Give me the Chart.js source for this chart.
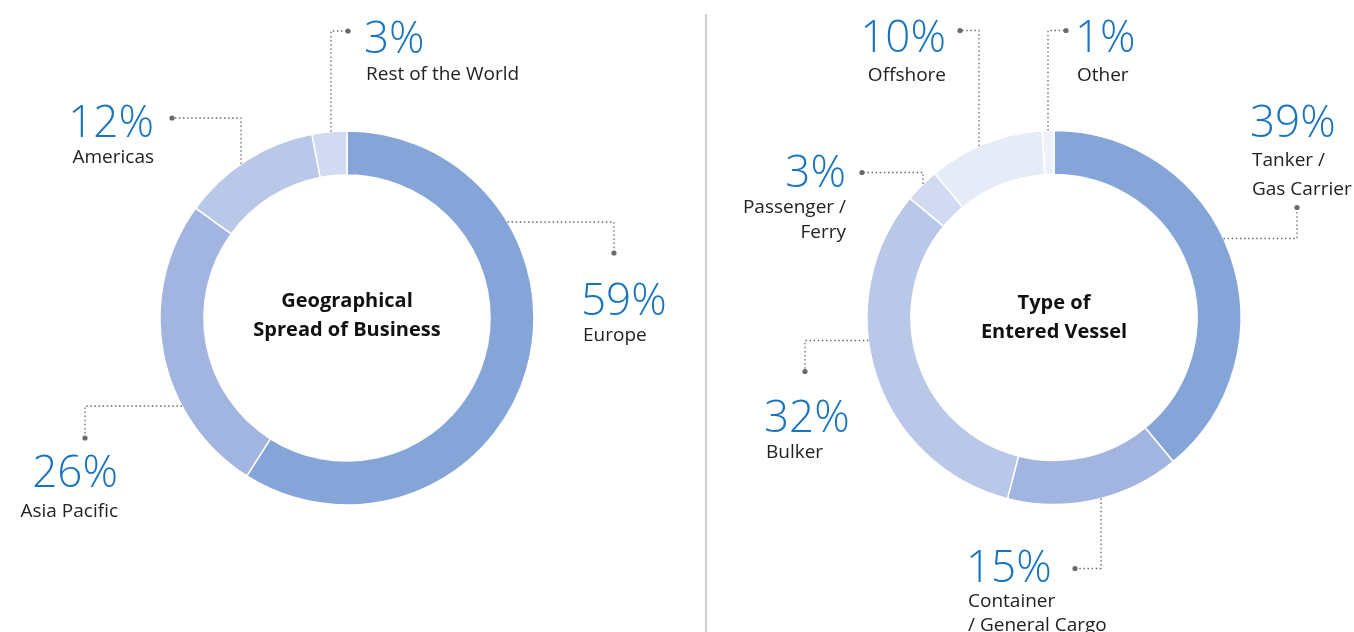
<!DOCTYPE html>
<html>
<head>
<meta charset="utf-8">
<script src="https://cdn.jsdelivr.net/npm/chart.js@4.4.1/dist/chart.umd.min.js"></script>
<style>
  html, body { margin: 0; padding: 0; background: #fff; }
  #wrap { position: relative; width: 1354px; height: 632px; overflow: hidden; }
  .pane { position: absolute; top: 0; height: 632px; }
  #left { left: 0; width: 706px; }
  #right { left: 707px; width: 647px; }
  #divider { position: absolute; left: 705px; top: 14px; width: 2px; height: 618px; background: #cfcfcf; }
</style>
</head>
<body>
<div id="wrap">
  <div class="pane" id="left"><canvas id="chart-geo"></canvas></div>
  <div id="divider"></div>
  <div class="pane" id="right"><canvas id="chart-vessel"></canvas></div>
</div>
<script>
// data
const geoLabels = ["Europe", "Asia Pacific", "Americas", "Rest of the World"];
const geoValues = [59, 26, 12, 3];
const geoTitle = ["Geographical", "Spread of Business"];

const vesselLabels = ["Tanker / Gas Carrier", "Container / General Cargo", "Bulker", "Passenger / Ferry", "Offshore", "Other"];
const vesselValues = [39, 15, 32, 3, 10, 1];
const vesselTitle = ["Type of", "Entered Vessel"];

const palette = {
  pct: "#1874bf",
  text: "#222222",
  leader: "#6a6a6a",
  geo: ["#85a4d8", "#a2b5e0", "#b9c7e8", "#d1daf1"],
  vessel: ["#85a4d8", "#a2b5e0", "#b9c7e8", "#d1daf1", "#e6ebf8", "#eef1fa"],
};

// label layout relative to the doughnut centre
// lines: text lines under the percentage, leader: from ring edge out to the dot
const geoLayout = [
  { x: 236, y: -3, align: "left", lines: ["Europe"], lh: 26, gap: 25,
    leader: { from: "h", at: -96, side: 1, bend: 267, end: -65 } },
  { x: -229, y: 169, align: "right", lines: ["Asia Pacific"], lh: 30, gap: 25,
    leader: { from: "h", at: 88, side: -1, bend: -262, end: 120 } },
  { x: -193, y: -181, align: "right", lines: ["Americas"], lh: 26, gap: 25,
    leader: { from: "v", at: -106, side: -1, bend: -200, end: -175 } },
  { x: 19, y: -265, align: "left", lines: ["Rest of the World"], lh: 27, gap: 25,
    leader: { from: "v", at: -16, side: -1, bend: -287, end: 1 } },
];

const vesselLayout = [
  { x: 198, y: -181, align: "left", lines: ["Tanker /", "Gas Carrier"], lh: 29, gap: 29,
    leader: { from: "h", at: -79, side: 1, bend: 243, end: -110 } },
  { x: -86, y: 264, align: "left", lines: ["Container", "/ General Cargo"], lh: 25, gap: 24,
    leader: { from: "v", at: 47, side: 1, bend: 251, end: 21 } },
  { x: -288, y: 114, align: "left", lines: ["Bulker"], lh: 26, gap: 25,
    leader: { from: "h", at: 23, side: -1, bend: -249, end: 54 } },
  { x: -208, y: -131, align: "right", lines: ["Passenger /", "Ferry"], lh: 26, gap: 25,
    leader: { from: "v", at: -131, side: -1, bend: -145, end: -192 } },
  { x: -108, y: -266, align: "right", lines: ["Offshore"], lh: 29, gap: 25,
    leader: { from: "v", at: -75, side: -1, bend: -287, end: -94 } },
  { x: 23, y: -266, align: "left", lines: ["Other"], lh: 29, gap: 25,
    leader: { from: "v", at: -6, side: -1, bend: -287, end: 12 } },
];

const pctFont = '300 44px "Open Sans", Lato, sans-serif';
const labelFont = '400 19px "Open Sans", Lato, sans-serif';
const titleFont = '700 20px "Open Sans", Lato, sans-serif';

function dottedLine(ctx, pts) {
  ctx.save();
  ctx.strokeStyle = palette.leader;
  ctx.lineWidth = 1.3;
  ctx.setLineDash([1.5, 2.6]);
  ctx.beginPath();
  ctx.moveTo(pts[0][0], pts[0][1]);
  for (let i = 1; i < pts.length; i++) ctx.lineTo(pts[i][0], pts[i][1]);
  ctx.stroke();
  ctx.restore();
  const last = pts[pts.length - 1];
  ctx.fillStyle = palette.leader;
  ctx.beginPath();
  ctx.arc(last[0], last[1], 2.6, 0, Math.PI * 2);
  ctx.fill();
}

const labelPlugin = {
  id: "calloutLabels",
  afterDraw(chart, args, opts) {
    const arc = chart.getDatasetMeta(0).data[0];
    if (!arc) return;
    const cx = arc.x, cy = arc.y, R = arc.outerRadius;
    const ctx = chart.ctx;
    const values = chart.data.datasets[0].data;

    // centre title
    ctx.save();
    ctx.font = titleFont;
    ctx.fillStyle = "#111";
    ctx.textAlign = "center";
    ctx.textBaseline = "alphabetic";
    ctx.fillText(opts.title[0], cx, cy - 11 + opts.titleShift);
    ctx.fillText(opts.title[1], cx, cy + 18 + opts.titleShift);
    ctx.restore();

    opts.layout.forEach((l, i) => {
      const ld = l.leader;
      let pts;
      if (ld.from === "h") {
        const sx = cx + ld.side * Math.sqrt(R * R - ld.at * ld.at);
        pts = [[sx, cy + ld.at], [cx + ld.bend, cy + ld.at], [cx + ld.bend, cy + ld.end]];
      } else {
        const sy = cy + ld.side * Math.sqrt(R * R - ld.at * ld.at);
        pts = [[cx + ld.at, sy], [cx + ld.at, cy + ld.bend], [cx + ld.end, cy + ld.bend]];
      }
      dottedLine(ctx, pts);

      ctx.save();
      ctx.textAlign = l.align;
      ctx.textBaseline = "alphabetic";
      ctx.font = pctFont;
      ctx.fillStyle = palette.pct;
      ctx.fillText(values[i] + "%", cx + l.x - (l.align === "left" ? 2 : 0), cy + l.y);
      ctx.font = labelFont;
      ctx.fillStyle = palette.text;
      l.lines.forEach((t, j) => {
        ctx.fillText(t, cx + l.x, cy + l.y + l.lh + j * l.gap);
      });
      ctx.restore();
    });
  },
};

function makeDoughnut(id, labels, values, colors, layout, title, pad, titleShift) {
  return new Chart(document.getElementById(id), {
    type: "doughnut",
    data: {
      labels: labels,
      datasets: [{
        data: values,
        backgroundColor: colors,
        borderColor: "#ffffff",
        borderWidth: 1.5,
      }],
    },
    options: {
      responsive: true,
      maintainAspectRatio: false,
      animation: false,
      events: [],
      radius: 187,
      cutout: "76.5%",
      layout: { padding: pad },
      plugins: {
        legend: { display: false },
        tooltip: { enabled: false },
        calloutLabels: { layout: layout, title: title, titleShift: titleShift },
      },
    },
    plugins: [labelPlugin],
  });
}

makeDoughnut("chart-geo", geoLabels, geoValues, palette.geo, geoLayout, geoTitle,
  { top: 4, right: 12, left: 0, bottom: 0 }, 0);
makeDoughnut("chart-vessel", vesselLabels, vesselValues, palette.vessel, vesselLayout, vesselTitle,
  { top: 3, left: 47, right: 0, bottom: 0 }, 2);
</script>
</body>
</html>
